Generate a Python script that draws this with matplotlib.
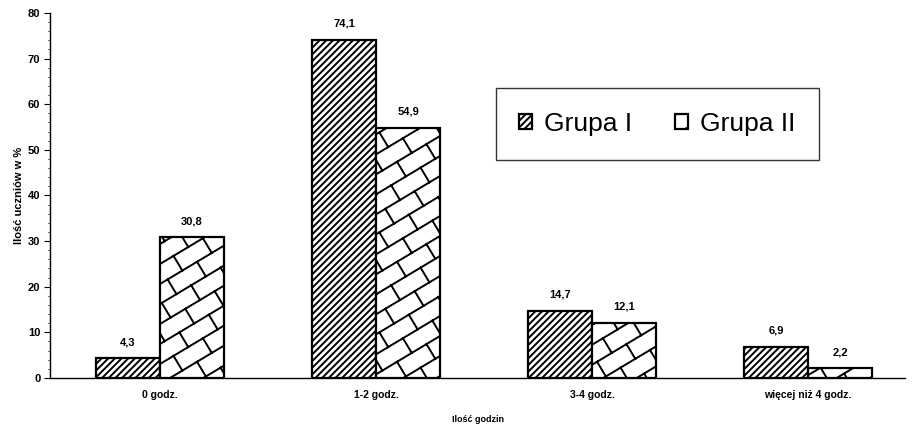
import warnings
import numpy as np
import matplotlib
matplotlib.use('Agg')
import matplotlib.pyplot as plt
import matplotlib.hatch as mhatch
from matplotlib.path import Path
from matplotlib.ticker import MultipleLocator

warnings.filterwarnings('ignore')

categories = ['0 godz.', '1-2 godz.', '3-4 godz.', 'więcej niż 4 godz.']
grupa_1 = [4.3, 74.1, 14.7, 6.9]
grupa_2 = [30.8, 54.9, 12.1, 2.2]
series_names = ['Grupa I', 'Grupa II']


# brick pattern registered as hatch character 'b'
# rows run along direction (5, 3), so the pattern tiles the unit cell
def brick_segments(a=5, b=3, brick=2):
    norm = a * a + b * b

    def to_xy(s, t):
        return ((a * s - b * t) / norm, (b * s + a * t) / norm)

    segs = []
    for k in range(-b - 2, a + 3):
        segs.append((to_xy(-b - 2, k), to_xy(a + b + 2, k)))
    for k in range(-b - 2, a + 2):
        off = k % 2
        for m in range(-3, (a + b) // brick + 4):
            s = m * brick + off
            segs.append((to_xy(s, k), to_xy(s, k + 1)))
    return segs


class BrickHatch(mhatch.HatchPatternBase):
    def __init__(self, hatch, density):
        self.segs = brick_segments() if 'b' in hatch else []
        self.num_vertices = 2 * len(self.segs)

    def set_vertices_and_codes(self, vertices, codes):
        for i, (p, q) in enumerate(self.segs):
            vertices[2 * i] = p
            vertices[2 * i + 1] = q
        codes[0::2] = Path.MOVETO
        codes[1::2] = Path.LINETO


mhatch._hatch_types.append(BrickHatch)

plt.rcParams['font.family'] = ['Liberation Sans', 'DejaVu Sans']
plt.rcParams['hatch.linewidth'] = 1.4
plt.rcParams['hatch.color'] = 'black'

fig = plt.figure(figsize=(9.19, 4.26), dpi=100)
ax = fig.add_axes([0.0544, 0.1127, 0.9306, 0.8568])

x = np.arange(len(categories))
w = 0.296
b1 = ax.bar(x - w / 2, grupa_1, w, color='white', edgecolor='black',
            linewidth=1.6, hatch='/////', label=series_names[0])
b2 = ax.bar(x + w / 2, grupa_2, w, color='white', edgecolor='black',
            linewidth=1.6, hatch='b', label=series_names[1])

for bars, vals in ((b1, grupa_1), (b2, grupa_2)):
    for r, v in zip(bars, vals):
        ax.text(r.get_x() + r.get_width() / 2, v + 2.4, f'{v:.1f}'.replace('.', ','),
                ha='center', va='bottom', fontsize=8, fontweight='bold')

ax.set_xlim(-0.509, 3.449)
ax.set_ylim(0, 80)
ax.yaxis.set_major_locator(MultipleLocator(10))
ax.yaxis.set_minor_locator(MultipleLocator(2))
ax.tick_params(axis='y', which='major', length=4, width=0.8, labelsize=8, pad=3)
ax.tick_params(axis='y', which='minor', length=1.5, width=0.6)
for lab in ax.get_yticklabels():
    lab.set_fontweight('bold')
ax.set_xticks(x)
ax.set_xticklabels(categories, fontsize=7.5, fontweight='bold')
ax.tick_params(axis='x', length=0, pad=9)

ax.spines['top'].set_visible(False)
ax.spines['right'].set_visible(False)
ax.spines['left'].set_linewidth(1.0)
ax.spines['bottom'].set_linewidth(1.0)

ax.set_ylabel('Ilość uczniów w %', fontsize=8, fontweight='bold', labelpad=3)
ax.set_xlabel('Ilość godzin', fontsize=6.5, fontweight='bold', labelpad=10.5)

leg = ax.legend(loc='center', bbox_to_anchor=(0.71, 0.696), ncol=2,
                fontsize=19, frameon=True, fancybox=False, edgecolor='black',
                handlelength=0.5, handleheight=0.5, handletextpad=0.45,
                columnspacing=1.6, borderpad=0.9)
leg.get_frame().set_linewidth(1.0)

fig.savefig('out.png', dpi=100)
